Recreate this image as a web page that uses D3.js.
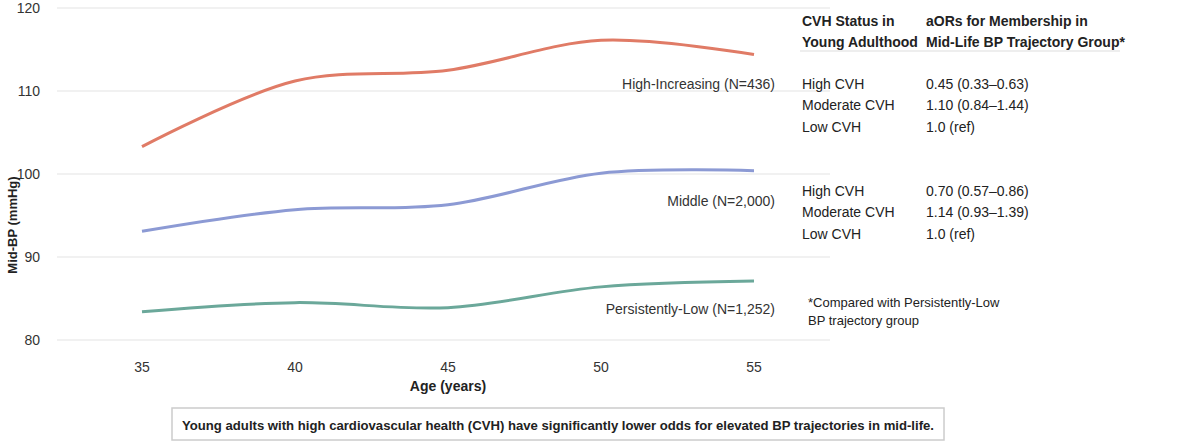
<!DOCTYPE html><html><head><meta charset="utf-8"><script src="https://cdn.jsdelivr.net/npm/d3@7"></script>
<style>body{margin:0;background:#fff}text{font-family:"Liberation Sans",Arial,sans-serif}</style></head><body><svg id="c" width="1200" height="444"></svg><script>
const ages=[35,40,45,50,55];
const highIncreasing=[103.3,111.2,112.5,116.1,114.4];
const middle=[93.1,95.7,96.3,100.1,100.4];
const persistentlyLow=[83.4,84.5,83.9,86.4,87.1];
const yTicks=[80,90,100,110,120];
const seriesNames=["High-Increasing (N=436)","Middle (N=2,000)","Persistently-Low (N=1,252)"];
const colors=["#E07B66","#8C9AD4","#6BA89A"];
const tableHeader=[["CVH Status in","Young Adulthood"],["aORs for Membership in","Mid-Life BP Trajectory Group*"]];
const tableRows1=[["High CVH","0.45 (0.33–0.63)"],["Moderate CVH","1.10 (0.84–1.44)"],["Low CVH","1.0 (ref)"]];
const tableRows2=[["High CVH","0.70 (0.57–0.86)"],["Moderate CVH","1.14 (0.93–1.39)"],["Low CVH","1.0 (ref)"]];
const svg=d3.select("#c");
const x=d3.scaleLinear().domain([35,55]).range([142,754]);
const y=d3.scaleLinear().domain([80,120]).range([340,8]);
svg.append("g").selectAll("line").data(yTicks).join("line").attr("x1",57).attr("x2",830).attr("y1",d=>y(d)).attr("y2",d=>y(d)).attr("stroke","#e3e3e3").attr("stroke-width",1.2);
svg.append("g").selectAll("text").data(yTicks).join("text").attr("x",40).attr("y",d=>y(d)+5).attr("text-anchor","end").attr("font-size",14).attr("fill","#333").text(d=>d);
svg.append("g").selectAll("text").data(ages).join("text").attr("x",d=>x(d)).attr("y",372).attr("text-anchor","middle").attr("font-size",14).attr("fill","#333").text(d=>d);
svg.append("text").attr("x",448).attr("y",391).attr("text-anchor","middle").attr("font-size",14).attr("font-weight","bold").attr("fill","#222").text("Age (years)");
svg.append("text").attr("transform","translate(17,225) rotate(-90)").attr("text-anchor","middle").attr("font-size",13).attr("font-weight","bold").attr("fill","#222").text("Mid-BP (mmHg)");
const line=d3.line().x((d,i)=>x(ages[i])).y(d=>y(d)).curve(d3.curveCatmullRom.alpha(0.5));
[highIncreasing,middle,persistentlyLow].forEach((s,i)=>svg.append("path").attr("d",line(s)).attr("fill","none").attr("stroke",colors[i]).attr("stroke-width",3));
const labY=[89,206,314];
seriesNames.forEach((n,i)=>svg.append("text").attr("x",775).attr("y",labY[i]).attr("text-anchor","end").attr("font-size",14).attr("fill","#333").text(n));
const t=svg.append("g").attr("font-size",14).attr("fill","#222");
tableHeader.forEach((h,c)=>h.forEach((s,k)=>t.append("text").attr("x",c?926:802).attr("y",26+k*21).attr("font-weight","bold").text(s)));
svg.append("line").attr("x1",800).attr("x2",1120).attr("y1",51).attr("y2",51).attr("stroke","#ddd");
[[tableRows1,89],[tableRows2,196]].forEach(([rows,y0])=>rows.forEach((r,k)=>{t.append("text").attr("x",802).attr("y",y0+k*21.3).text(r[0]);t.append("text").attr("x",926).attr("y",y0+k*21.3).text(r[1]);}));
t.append("text").attr("x",808).attr("y",307).attr("font-size",13).text("*Compared with Persistently-Low");
t.append("text").attr("x",808).attr("y",325).attr("font-size",13).text("BP trajectory group");
svg.append("rect").attr("x",172).attr("y",408).attr("width",772).attr("height",32).attr("fill","#fff").attr("stroke","#ccc").attr("stroke-width",1.5);
svg.append("text").attr("x",558).attr("y",430).attr("text-anchor","middle").attr("font-size",13.5).attr("textLength",752).attr("lengthAdjust","spacingAndGlyphs").attr("font-weight","bold").attr("fill","#222").text("Young adults with high cardiovascular health (CVH) have significantly lower odds for elevated BP trajectories in mid-life.");
</script></body></html>
